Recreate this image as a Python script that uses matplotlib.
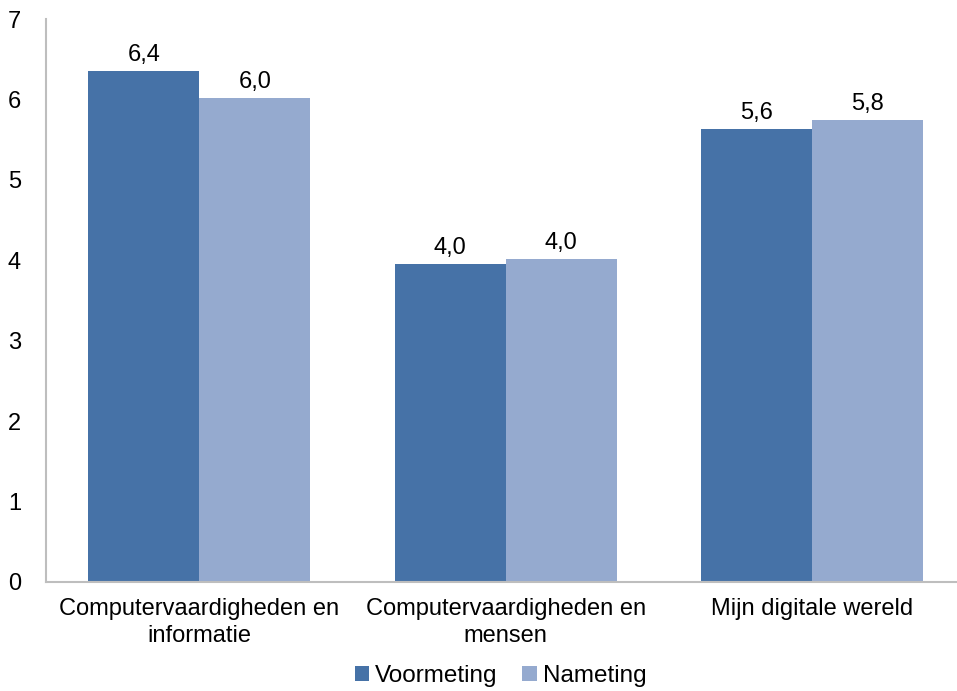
import matplotlib.pyplot as plt
import numpy as np

plt.rcParams['font.family'] = ['Liberation Sans', 'DejaVu Sans']

categories = ["Computervaardigheden en\ninformatie", "Computervaardigheden en\nmensen", "Mijn digitale wereld"]
voormeting = [6.35, 3.95, 5.63]
nameting = [6.02, 4.02, 5.75]
voor_labels = ["6,4", "4,0", "5,6"]
na_labels = ["6,0", "4,0", "5,8"]

fig = plt.figure(figsize=(9.57, 6.91), dpi=100)
ax = fig.add_axes([0.048, 0.158, 0.961, 0.8145])

x = np.arange(len(categories))
w = 0.362
b1 = ax.bar(x - w/2, voormeting, w, color="#4672A7", label="Voormeting")
b2 = ax.bar(x + w/2, nameting, w, color="#95AACF", label="Nameting")

fs = 17
for bar, lab in zip(b1, voor_labels):
    ax.text(bar.get_x() + bar.get_width()/2, bar.get_height() + 0.06, lab,
            ha="center", va="bottom", fontsize=fs)
for bar, lab in zip(b2, na_labels):
    ax.text(bar.get_x() + bar.get_width()/2, bar.get_height() + 0.06, lab,
            ha="center", va="bottom", fontsize=fs)

ax.set_xlim(-0.5, 2.5)
ax.set_ylim(0, 7)
ax.set_yticks(range(0, 8))
ax.set_xticks(x)
ax.set_xticklabels(categories, fontsize=fs, linespacing=1.25)
ax.tick_params(axis="y", labelsize=fs, length=0, pad=18)
ax.tick_params(axis="x", length=0, pad=12)
for s in ["top", "right"]:
    ax.spines[s].set_visible(False)
for s in ["left", "bottom"]:
    ax.spines[s].set_color("#BEBEBE")
    ax.spines[s].set_linewidth(1.5)

fig.legend(loc="center", bbox_to_anchor=(0.523, 0.022), ncol=2, frameon=False,
           fontsize=17.5, handlelength=0.6, handleheight=0.6, handletextpad=0.25,
           columnspacing=1.0, borderpad=0)

fig.savefig("out.png", dpi=100)
